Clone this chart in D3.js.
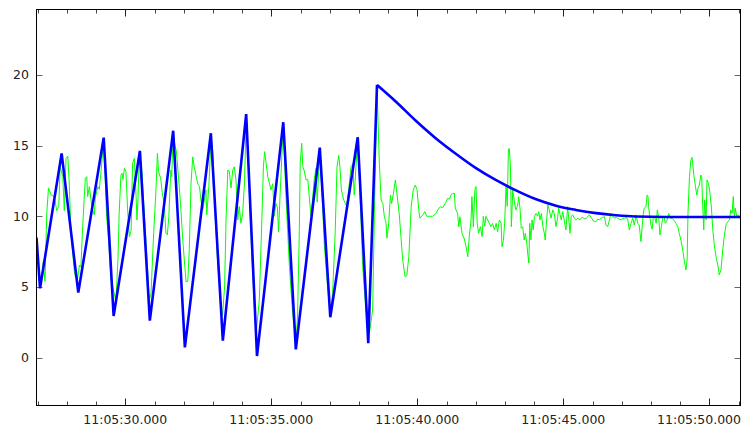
<!DOCTYPE html>
<html>
<head>
<meta charset="utf-8">
<script src="https://cdn.jsdelivr.net/npm/d3@7/dist/d3.min.js"></script>
<style>
html,body{margin:0;padding:0;background:#fff;}
svg{display:block;}
text{font-family:"DejaVu Sans",sans-serif;}
</style>
</head>
<body>
<svg id="chart" width="742" height="428"></svg>
<script>
// seconds after 11:05:00
const xDomainSec = [26.959, 51.068];
const yDomain = [-3.38, 24.62];
const yTickValues = [0, 5, 10, 15, 20];

// blue series: zigzag part (time s, value)
const blueTimes = [26.96, 27.08, 27.82, 28.39, 29.26, 29.60, 30.50, 30.84, 31.64, 32.04,
  32.93, 33.34, 34.14, 34.51, 35.41, 35.84, 36.66, 37.02, 37.96, 38.32, 38.62];
const blueValues = [8.5, 4.9, 14.45, 4.6, 15.56, 2.95, 14.62, 2.62, 16.05, 0.73,
  15.87, 1.2, 17.23, 0.12, 16.65, 0.59, 14.85, 2.86, 15.59, 1.02, 19.29];
// blue series: decay part (time s, value)
const blueDecayTimes = [38.62, 39.27, 39.95, 40.64, 41.33, 42.01, 42.70, 43.36, 44.07,
  44.75, 45.43, 46.12, 46.80, 47.47, 48.50, 51.07];
const blueDecayValues = [19.29, 18.1, 16.75, 15.5, 14.4, 13.4, 12.55, 11.85, 11.2,
  10.75, 10.45, 10.22, 10.07, 9.98, 9.95, 9.95];

// green series: time (s) and value
const greenTimes = [27.08,27.14,27.19,27.25,27.31,27.37,27.46,27.57,27.65,27.72,27.77,27.86,27.91,27.97,28.03,28.08,28.14,28.25,28.29,28.36,28.43,28.48,28.54,28.63,28.68,28.71,28.77,28.83,28.88,28.94,28.97,29.06,29.11,29.17,29.23,29.28,29.36,29.43,29.51,29.57,29.68,29.75,29.79,29.85,29.89,29.92,29.97,30.02,30.08,30.14,30.20,30.25,30.31,30.37,30.40,30.43,30.48,30.57,30.65,30.77,30.82,30.88,30.96,31.05,31.10,31.14,31.21,31.28,31.33,31.39,31.44,31.49,31.56,31.59,31.64,31.70,31.75,31.87,31.98,32.08,32.14,32.19,32.25,32.31,32.36,32.42,32.48,32.54,32.59,32.65,32.71,32.76,32.79,32.86,32.94,33.00,33.07,33.17,33.28,33.33,33.40,33.45,33.51,33.56,33.62,33.68,33.73,33.79,33.85,33.90,33.96,34.02,34.08,34.14,34.20,34.27,34.34,34.42,34.48,34.59,34.68,34.73,34.77,34.82,34.88,34.93,34.99,35.05,35.10,35.16,35.21,35.25,35.30,35.41,35.50,35.62,35.73,35.85,35.90,35.96,35.99,36.04,36.08,36.13,36.19,36.25,36.30,36.36,36.42,36.47,36.53,36.57,36.66,36.74,36.82,36.91,36.99,37.05,37.10,37.19,37.25,37.31,37.35,37.40,37.48,37.54,37.58,37.65,37.73,37.79,37.84,37.96,38.04,38.13,38.24,38.36,38.47,38.53,38.62,38.70,38.76,38.82,38.87,38.93,38.96,39.02,39.08,39.12,39.18,39.25,39.38,39.50,39.58,39.64,39.71,39.79,39.86,39.93,39.99,40.05,40.09,40.19,40.26,40.32,40.41,40.53,40.64,40.70,40.79,40.87,40.96,41.04,41.10,41.15,41.21,41.27,41.30,41.38,41.42,41.46,41.53,41.61,41.67,41.73,41.78,41.84,41.87,41.92,41.97,42.01,42.05,42.10,42.16,42.22,42.26,42.31,42.35,42.41,42.47,42.52,42.58,42.64,42.70,42.75,42.81,42.87,42.90,42.95,42.99,43.04,43.08,43.12,43.15,43.19,43.22,43.27,43.30,43.36,43.38,43.44,43.47,43.52,43.56,43.61,43.66,43.70,43.75,43.78,43.82,43.85,43.89,43.93,43.97,44.01,44.07,44.12,44.16,44.20,44.25,44.30,44.35,44.38,44.43,44.47,44.52,44.58,44.64,44.69,44.75,44.81,44.84,44.89,44.93,44.98,45.03,45.09,45.15,45.19,45.23,45.27,45.32,45.38,45.44,45.50,45.57,45.61,45.67,45.72,45.78,45.84,45.89,45.95,46.01,46.06,46.12,46.18,46.23,46.29,46.35,46.41,46.46,46.52,46.58,46.63,46.69,46.75,46.81,46.86,46.92,46.98,47.04,47.09,47.15,47.21,47.26,47.32,47.38,47.43,47.47,47.49,47.55,47.60,47.66,47.70,47.74,47.77,47.83,47.87,47.90,47.92,47.97,48.00,48.04,48.08,48.13,48.18,48.22,48.27,48.31,48.36,48.40,48.45,48.49,48.54,48.61,48.67,48.72,48.80,48.86,48.92,48.97,49.03,49.09,49.14,49.20,49.24,49.27,49.32,49.37,49.41,49.43,49.47,49.52,49.57,49.61,49.66,49.71,49.74,49.77,49.81,49.84,49.89,49.92,49.97,50.01,50.07,50.12,50.17,50.23,50.29,50.34,50.40,50.46,50.51,50.57,50.63,50.69,50.73,50.78,50.82,50.86,50.89,50.94,50.98,51.03,51.07];
const greenValues = [5.0,5.5,6.8,5.4,10.2,12.0,11.5,11.4,10.4,10.7,13.5,12.8,10.4,14.1,14.26,12.35,8.8,6.2,5.73,5.5,6.55,6.4,9.26,12.69,12.8,11.4,12.1,11.1,10.45,10.1,11.27,12.1,11.9,13.2,14.7,14.6,9.97,8.3,5.5,5.0,4.0,7.0,10.2,12.9,13.04,12.6,13.4,13.2,10.45,8.56,9.0,13.75,14.1,11.39,9.74,11.0,14.2,13.15,10.2,6.0,4.08,4.5,8.3,11.86,14.45,13.15,12.69,11.4,11.1,8.8,8.68,9.97,13.27,12.8,15.9,15.0,14.6,11.5,8.0,5.37,5.4,7.6,12.3,14.2,13.5,12.9,12.3,12.1,11.15,10.45,11.15,11.86,10.1,12.1,15.6,14.5,10.5,6.4,3.6,3.0,5.0,9.74,13.27,13.2,12.0,13.27,13.5,12.57,9.74,10.7,9.5,10.2,12.3,16.9,14.5,10.5,7.0,3.6,1.7,4.1,10.0,13.5,14.57,13.8,12.8,12.4,11.86,12.3,10.0,10.9,10.6,8.9,11.5,16.5,11.5,6.44,3.14,1.0,3.0,9.0,13.75,15.16,13.5,13.2,12.57,12.6,11.4,10.0,11.4,12.6,13.4,11.0,14.8,11.5,7.85,5.5,3.6,3.5,4.55,9.0,13.5,14.3,13.5,11.86,11.15,10.9,10.7,11.86,13.5,13.7,11.5,15.5,11.5,6.44,3.37,1.73,3.37,10.2,19.17,13.75,11.15,10.9,10.0,9.5,8.45,9.5,11.5,10.9,11.6,12.57,10.2,6.9,5.73,5.8,7.14,10.68,11.86,12.2,11.9,10.45,9.86,10.1,10.33,10.0,10.0,10.0,10.2,10.45,10.68,10.6,10.92,11.27,11.2,11.5,11.6,11.63,10.57,10.2,9.26,9.97,8.8,8.4,7.85,7.14,8.6,9.74,11.39,9.26,11.86,12.1,9.5,8.8,9.26,8.56,10.0,9.3,10.0,9.74,9.5,9.26,9.5,9.03,9.5,8.9,9.74,9.5,7.85,8.3,9.5,12.1,10.7,14.69,14.8,13.5,9.26,11.86,11.4,10.57,10.45,10.8,11.39,10.5,9.15,9.26,8.32,8.8,8.09,7.4,6.68,9.5,8.32,9.74,9.03,10.0,10.2,10.0,10.33,9.74,10.2,9.26,8.8,8.32,9.74,10.8,10.45,9.86,10.45,10.2,9.26,9.97,10.57,10.1,9.74,10.33,9.74,9.03,10.68,9.74,8.8,10.0,10.1,9.86,9.74,9.86,9.74,9.86,9.93,9.8,9.86,9.97,10.1,9.93,9.74,9.62,9.62,9.8,9.74,9.86,9.93,9.97,9.38,9.26,9.74,10.2,10.0,9.86,9.93,9.84,9.8,9.74,9.86,9.8,9.93,9.74,9.03,9.5,9.86,9.38,9.8,10.1,9.5,9.38,8.2,9.26,10.2,10.57,10.68,11.5,11.39,10.68,9.86,9.38,9.08,9.86,9.97,9.5,10.45,9.86,8.68,9.26,9.86,9.97,9.5,9.62,10.2,9.86,9.86,9.69,9.5,9.26,8.8,8.3,7.62,6.9,6.2,6.9,10.2,12.8,13.98,14.17,13.75,12.92,12.2,11.5,11.97,12.2,12.92,12.8,10.92,9.03,11.15,9.74,12.57,12.33,11.86,10.68,9.03,7.97,7.14,6.55,5.85,6.2,7.62,8.56,9.38,9.62,9.74,10.45,10.2,11.39,9.86,10.57,10.0,10.1,9.86,10.1];

const base = Date.UTC(2020, 0, 1, 11, 5, 0);
const toDate = s => new Date(base + s * 1000);

const L = 36.5, R = 740.5, T = 9.5, B = 405.5;

const svg = d3.select("#chart");
const x = d3.scaleUtc().domain(xDomainSec.map(toDate)).range([L, R]);
const y = d3.scaleLinear().domain(yDomain).range([B, T]);

svg.append("defs").append("clipPath").attr("id", "clip")
  .append("rect").attr("x", L).attr("y", T).attr("width", R - L).attr("height", B - T);

const fmt = d3.utcFormat("%H:%M:%S.%L");
const majorX = x.ticks(d3.utcSecond.every(5));
const minorX = x.ticks(d3.utcSecond.every(1));

const gTicks = svg.append("g");
minorX.forEach(d => {
  const px = Math.round(x(d)) + 0.5;
  gTicks.append("line").attr("x1", px).attr("x2", px).attr("y1", B).attr("y2", B - 4)
    .attr("stroke", "#444").attr("stroke-width", 1);
  gTicks.append("line").attr("x1", px).attr("x2", px).attr("y1", T).attr("y2", T + 4)
    .attr("stroke", "#444").attr("stroke-width", 1);
});
majorX.forEach(d => {
  const px = Math.round(x(d)) + 0.5;
  gTicks.append("line").attr("x1", px).attr("x2", px).attr("y1", B).attr("y2", B - 7)
    .attr("stroke", "#222").attr("stroke-width", 1);
  gTicks.append("line").attr("x1", px).attr("x2", px).attr("y1", T).attr("y2", T + 7)
    .attr("stroke", "#222").attr("stroke-width", 1);
});
yTickValues.forEach(v => {
  const py = Math.round(y(v)) + 0.5;
  gTicks.append("line").attr("x1", L).attr("x2", L + 6).attr("y1", py).attr("y2", py)
    .attr("stroke", "#666").attr("stroke-width", 1);
  gTicks.append("line").attr("x1", R).attr("x2", R - 6).attr("y1", py).attr("y2", py)
    .attr("stroke", "#666").attr("stroke-width", 1);
});

// labels
const gLab = svg.append("g").attr("font-size", 12.5).attr("fill", "#222");
majorX.forEach(d => {
  const t = gLab.append("text").attr("x", x(d)).attr("y", 424).attr("text-anchor", "middle").text(fmt(d));
  const bb = t.node().getBBox();
  if (bb.x + bb.width > 741) {
    t.attr("text-anchor", "end").attr("x", 741);
  }
});
yTickValues.forEach(v => {
  gLab.append("text").attr("x", 29).attr("y", y(v)).attr("dy", "0.36em")
    .attr("text-anchor", "end").text(v);
});

// lines
const green = greenTimes.map((t, i) => [toDate(t), greenValues[i]]);
const blue = blueTimes.map((t, i) => [toDate(t), blueValues[i]]);
const blueDecay = blueDecayTimes.map((t, i) => [toDate(t), blueDecayValues[i]]);
const line = d3.line().x(d => x(d[0])).y(d => y(d[1]));
const smooth = d3.line().x(d => x(d[0])).y(d => y(d[1])).curve(d3.curveMonotoneX);

const gPlot = svg.append("g").attr("clip-path", "url(#clip)");
gPlot.append("path").datum(green).attr("d", line)
  .attr("fill", "none").attr("stroke", "#00ff00").attr("stroke-width", 1);
gPlot.append("path").datum(blue).attr("d", line)
  .attr("fill", "none").attr("stroke", "#0000ff").attr("stroke-width", 2.6)
  .attr("stroke-linejoin", "miter");
gPlot.append("path").datum(blueDecay).attr("d", smooth)
  .attr("fill", "none").attr("stroke", "#0000ff").attr("stroke-width", 2.6);

// frame
svg.append("rect").attr("x", L).attr("y", T).attr("width", R - L).attr("height", B - T)
  .attr("fill", "none").attr("stroke", "#000").attr("stroke-width", 1);
</script>
</body>
</html>
